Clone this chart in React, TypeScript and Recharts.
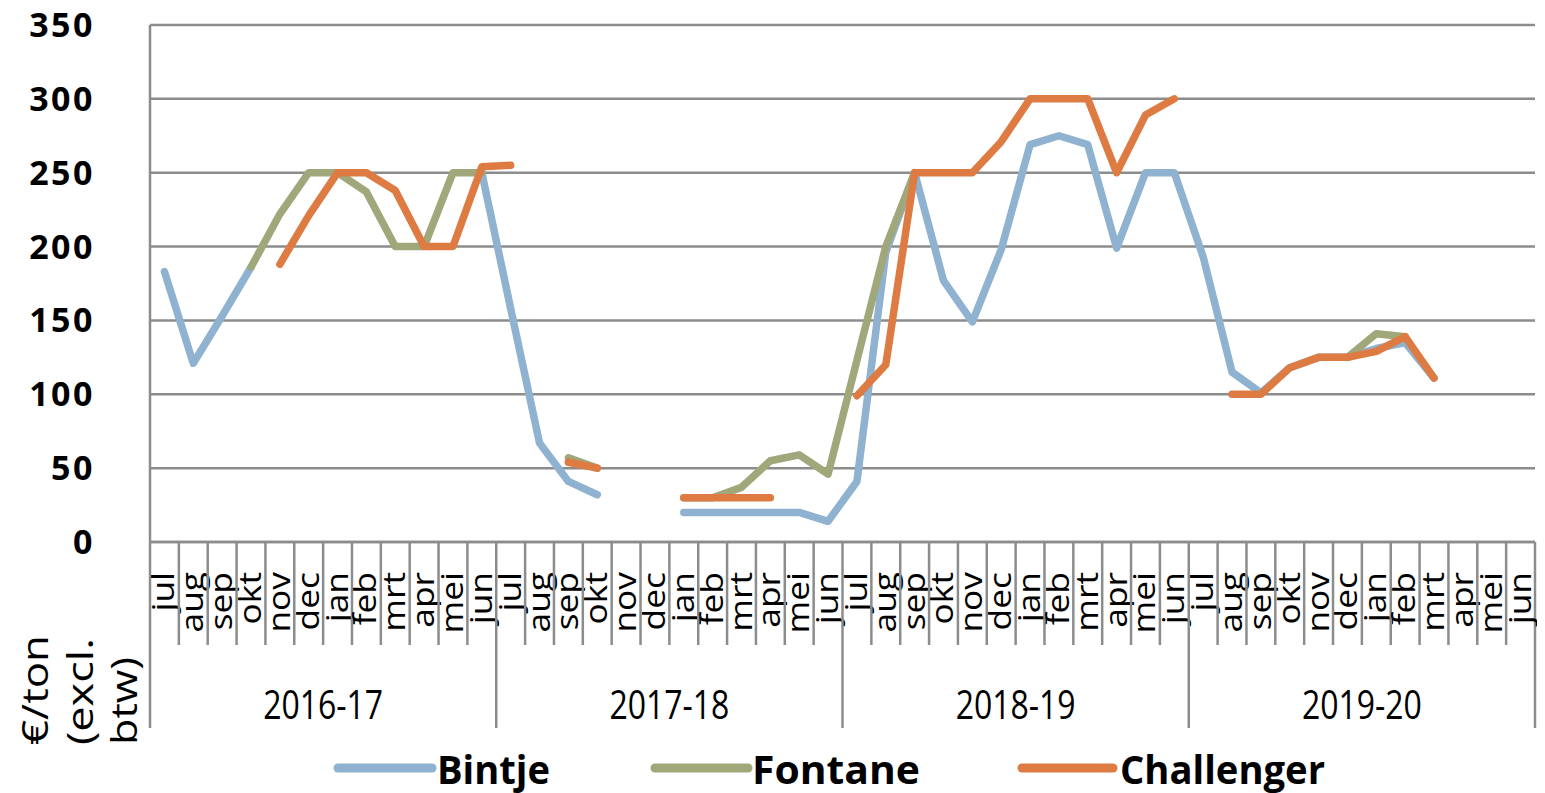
import React from 'react';
import { LineChart, Line, XAxis, YAxis, CartesianGrid, Legend } from 'recharts';

// ---- data ----
const monthNames = ['jul', 'aug', 'sep', 'okt', 'nov', 'dec', 'jan', 'feb', 'mrt', 'apr', 'mei', 'jun'];
const seasons = ['2016-17', '2017-18', '2018-19', '2019-20'];
const yTicks = [0, 50, 100, 150, 200, 250, 300, 350];

const bintje = [
  183, 121, 153, 186, null, null, null, null, null, null, null, 250,
  158, 67, 41, 32, null, null, 20, 20, 20, 20, 20, 14,
  41, 196, 250, 177, 149, 198, 269, 275, 269, 199, 250, 250,
  193, 115, 101, 118, 125, 125, 131, 135, 111, null, null, null,
];
const fontane = [
  null, null, null, 186, 222, 250, 250, 237, 200, 200, 250, 250,
  null, null, 57, 50, null, null, 30, 30, 37, 55, 59, 46,
  123, 200, 250, null, null, null, null, null, null, null, null, null,
  null, null, null, null, null, 125, 141, 139, null, null, null, null,
];
const challenger = [
  null, null, null, null, 188, 221, 250, 250, 238, 200, 200, 254,
  255, null, 54, 50, null, null, 30, 30, 30, 30, null, null,
  99, 120, 250, 250, 250, 271, 300, 300, 300, 250, 289, 300,
  null, 100, 100, 118, 125, 125, 129, 139, 111, null, null, null,
];

const seriesNames = ['Bintje', 'Fontane', 'Challenger'];
const seriesColors = ['#8EB2CF', '#A0A77A', '#DE7B42'];

const data = bintje.map((_, i) => ({
  idx: i,
  Bintje: bintje[i],
  Fontane: fontane[i],
  Challenger: challenger[i],
}));

// ---- layout ----
const W = 1537;
const H = 793;
const MARGIN = { top: 25, right: 10, left: 0, bottom: 0 };
const Y_W = 142;
const X_H = 200;
const LEG_H = 51;
const BAND = (W - MARGIN.right - MARGIN.left - Y_W) / data.length;
const GRID = '#8c8c8c';
const FONT = '"Open Sans", "DejaVu Sans", sans-serif';

const XTick = (props: any) => {
  const { x, y, payload } = props;
  const i = Number(payload.value);
  const half = BAND / 2;
  const major = i % 12 === 0;
  return (
    <g>
      <line x1={x - half} x2={x - half} y1={y} y2={y + (major ? 186 : 103)} stroke={GRID} strokeWidth={2.5} />
      {i === data.length - 1 && (
        <line x1={x + half} x2={x + half} y1={y} y2={y + 186} stroke={GRID} strokeWidth={2.5} />
      )}
      <text
        transform={`translate(${x + 10},${y + 30}) rotate(-90) scale(1.14,1)`}
        textAnchor="end"
        fontSize={31}
        fontFamily={FONT}
        fill="#000"
      >
        {monthNames[i % 12]}
      </text>
      {i % 12 === 5 && (
        <text
          x={x + half}
          y={y + 161}
          textAnchor="middle"
          dominantBaseline="central"
          fontSize={40}
          fontFamily={FONT}
          textLength={120}
          lengthAdjust="spacingAndGlyphs"
          fill="#000"
        >
          {seasons[Math.floor(i / 12)]}
        </text>
      )}
      {i === 0 && (
        <g fontFamily={FONT} fontSize={36} fill="#000">
          <text transform={`translate(${x - 116},${y + 203}) rotate(-90)`} textAnchor="start" textLength={110} lengthAdjust="spacingAndGlyphs">€/ton</text>
          <text transform={`translate(${x - 71},${y + 203}) rotate(-90)`} textAnchor="start" textLength={107} lengthAdjust="spacingAndGlyphs">(excl.</text>
          <text transform={`translate(${x - 27},${y + 203}) rotate(-90)`} textAnchor="start" textLength={88} lengthAdjust="spacingAndGlyphs">btw)</text>
        </g>
      )}
    </g>
  );
};

const YTick = (props: any) => {
  const { x, y, payload } = props;
  return (
    <text
      x={x - 55}
      y={y + 12}
      textAnchor="end"
      fontSize={34}
      fontWeight={700}
      fontFamily={FONT}
      letterSpacing={2.5}
      fill="#000"
    >
      {payload.value}
    </text>
  );
};

const legendLayout = [
  { x1: 330, x2: 424, tx: 429, tw: 113 },
  { x1: 647, x2: 740, tx: 744, tw: 168 },
  { x1: 1014, x2: 1105, tx: 1112, tw: 205 },
];

const LegendContent = () => (
  <svg width={W} height={LEG_H} style={{ display: 'block', overflow: 'visible' }}>
    {seriesNames.map((name, k) => (
      <g key={name}>
        <line
          x1={legendLayout[k].x1}
          x2={legendLayout[k].x2}
          y1={26}
          y2={26}
          stroke={seriesColors[k]}
          strokeWidth={9}
          strokeLinecap="round"
        />
        <text
          x={legendLayout[k].tx}
          y={42}
          fontSize={39}
          fontWeight={700}
          fontFamily={FONT}
          textLength={legendLayout[k].tw}
          lengthAdjust="spacingAndGlyphs"
          fill="#000"
        >
          {name}
        </text>
      </g>
    ))}
  </svg>
);

export default function App() {
  return (
    <div style={{ width: W, height: H, marginTop: -8 }}>
      <LineChart width={W} height={H} data={data} margin={MARGIN} style={{ overflow: 'visible' }}>
        <CartesianGrid vertical={false} stroke={GRID} strokeWidth={2.5} />
        <XAxis
          dataKey="idx"
          type="category"
          interval={0}
          height={X_H}
          padding={{ left: BAND / 2, right: BAND / 2 }}
          tickLine={false}
          tickSize={0}
          tickMargin={0}
          axisLine={{ stroke: GRID, strokeWidth: 2.5 }}
          tick={<XTick />}
        />
        <YAxis
          type="number"
          domain={[0, 350]}
          ticks={yTicks}
          interval={0}
          width={Y_W}
          tickLine={false}
          tickSize={0}
          tickMargin={0}
          axisLine={{ stroke: GRID, strokeWidth: 2.5 }}
          tick={<YTick />}
        />
        <Legend
          verticalAlign="bottom"
          height={LEG_H}
          wrapperStyle={{ left: 0, bottom: 0, width: W, height: LEG_H }}
          content={<LegendContent />}
        />
        {seriesNames.map((name, k) => (
          <Line
            key={name}
            dataKey={name}
            stroke={seriesColors[k]}
            strokeWidth={7.5}
            strokeLinecap="round"
            strokeLinejoin="round"
            dot={false}
            activeDot={false}
            connectNulls={false}
            isAnimationActive={false}
          />
        ))}
      </LineChart>
    </div>
  );
}
